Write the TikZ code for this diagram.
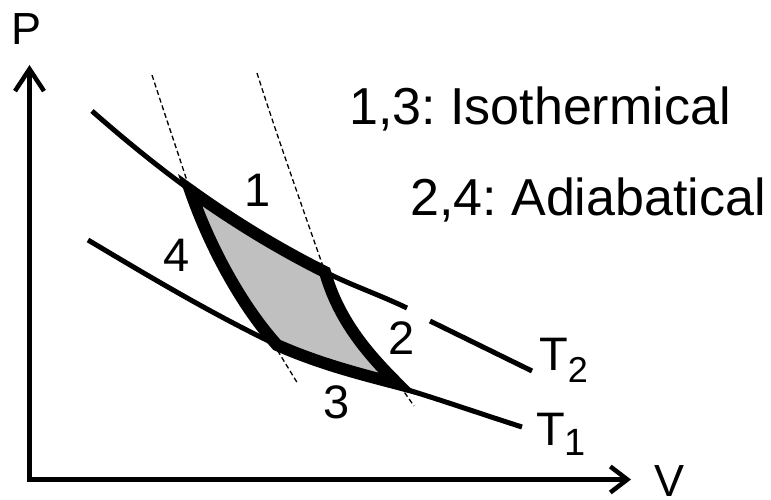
\documentclass[tikz,border=0pt]{standalone}
\usepackage{fontspec}
\setmainfont{Liberation Sans}
\usetikzlibrary{arrows.meta}
\definecolor{cycgray}{RGB}{192,192,192}
\frenchspacing
\begin{document}
\begin{tikzpicture}[x=1pt,y=-1pt,
  axis/.style={line width=4.5pt, line join=miter},
  iso/.style={line width=5pt},
  adia/.style={line width=1.3pt, dash pattern=on 5pt off 3pt},
  cyc/.style={line width=12pt, line join=miter, fill=cycgray},
  big/.style={inner sep=0pt, font=\fontsize{52}{60}\selectfont},
  lab/.style={inner sep=0pt, font=\fontsize{47}{50}\selectfont},
  axlab/.style={inner sep=0pt, font=\fontsize{45}{50}\selectfont},
]
\useasboundingbox (0,0) rectangle (771,500);

% axes
\coordinate (O) at (29.5,479.5);
\coordinate (Ytip) at (29.5,65);
\coordinate (Xtip) at (631,479.5);
\draw[axis, {Straight Barb[length=22pt,width=29pt]}-{Straight Barb[length=17pt,width=26pt]}] (Ytip) -- (O) -- (Xtip);
\node[axlab] (P) at (27,29) {P};
\node[axlab] (V) at (669,481) {V};

% cycle corners
\coordinate (A) at (190,190);
\coordinate (B) at (325,272);
\coordinate (C) at (398,384);
\coordinate (D) at (277,345);

% adiabats (dashed, visible parts)
\coordinate (a1s) at (152,75);
\coordinate (a1e) at (298,384);
\coordinate (a1m) at (265,330);
\draw[adia] (a1s) .. controls (165,115) and (177,150) .. (A);
\draw[adia] (a1m) -- (a1e);
\coordinate (a2s) at (257,73);
\coordinate (a2m) at (400,386);
\coordinate (a2e) at (414,406);
\draw[adia] (a2s) .. controls (275,130) and (305,215) .. (B);
\draw[adia] (a2m) -- (a2e);

% isotherms
\coordinate (u0) at (92,111);
\coordinate (u1) at (407,308);
\coordinate (u2) at (430,321);
\coordinate (u3) at (532,371);
\draw[iso] (u0) .. controls (125,140) and (157,166) .. (A)
  .. controls (235,222.4) and (280,249.5) .. (B)
  .. controls (352,285.5) and (380,295) .. (u1);
\draw[iso] (u2) -- (u3);
\coordinate (w0) at (88,240);
\coordinate (w1) at (405,389);
\coordinate (w2) at (522,427);
\draw[iso] (w0) .. controls (150,277) and (214,315) .. (D)
  .. controls (320,365.6) and (362,378) .. (w1)
  .. controls (444,401) and (483,414.5) .. (w2);

% Carnot cycle
\draw[cyc] (A) .. controls (235,222.4) and (280,249.5) .. (B)
  .. controls (339,322) and (370,356) .. (C)
  .. controls (360,374) and (320,364) .. (D)
  .. controls (241,305) and (209,245) .. cycle;

% labels
\node[lab] (l1) at (258,190) {1};
\node[lab] (l2) at (402,338) {2};
\node[lab] (l3) at (337,402) {3};
\node[lab] (l4) at (177,255) {4};
\node[lab, anchor=base west] (T2) at (539,370) {T\raisebox{-12pt}{\fontsize{36}{36}\selectfont 2}};
\node[lab, anchor=base west] (T1) at (536,445) {T\raisebox{-10pt}{\fontsize{38}{38}\selectfont 1}};

\node[big, anchor=base west] (t13) at (349,125) {1,3: Isothermical};
\node[big, anchor=base west] (t24) at (410,215) {2,4: Adiabatical};
\end{tikzpicture}
\end{document}
